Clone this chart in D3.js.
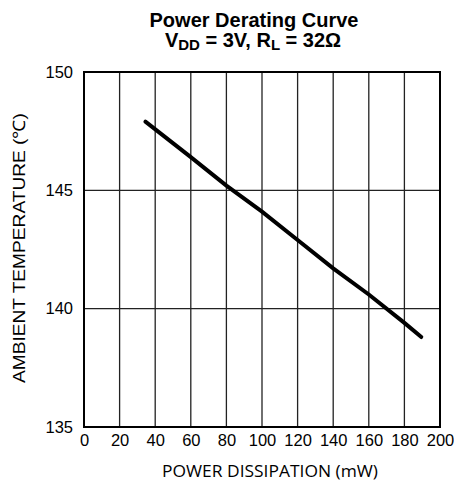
<!DOCTYPE html>
<html><head><meta charset="utf-8">
<script src="https://cdn.jsdelivr.net/npm/d3@7"></script>
<style>body{margin:0;background:#fff}svg{display:block}</style>
</head><body><svg id="c" width="454" height="481"></svg>
<script>
const powerMW = [34.5, 60, 80, 100, 120, 140, 160, 180, 189.5];
const ambientC = [147.9, 146.4, 145.2, 144.1, 142.9, 141.7, 140.6, 139.4, 138.8];
const xTicks = [0,20,40,60,80,100,120,140,160,180,200];
const yTicks = [135,140,145,150];

const svg = d3.select("#c");
const L=84, R=440, T=72, B=427;
const x = d3.scaleLinear().domain([0,200]).range([L,R]);
const y = d3.scaleLinear().domain([135,150]).range([B,T]);
const tf="Liberation Sans, Arial, sans-serif";

// grid
svg.append("g").selectAll("line").data(xTicks.slice(1,-1)).join("line")
  .attr("x1",d=>x(d)).attr("x2",d=>x(d)).attr("y1",T).attr("y2",B)
  .attr("stroke","#222").attr("stroke-width",1.3);
svg.append("g").selectAll("line").data(yTicks.slice(1,-1)).join("line")
  .attr("x1",L).attr("x2",R).attr("y1",d=>y(d)).attr("y2",d=>y(d))
  .attr("stroke","#222").attr("stroke-width",1.3);
svg.append("rect").attr("x",L).attr("y",T).attr("width",R-L).attr("height",B-T)
  .attr("fill","none").attr("stroke","#000").attr("stroke-width",2);

// tick labels
const xa = svg.append("g").attr("transform",`translate(0,${B})`)
  .call(d3.axisBottom(x).tickValues(xTicks).tickSize(0).tickPadding(0));
xa.select(".domain").remove();
xa.selectAll("text").attr("font-family",tf).attr("font-size",16.5).attr("fill","#000")
  .attr("y",19).attr("dy",0);
const ya = svg.append("g").attr("transform",`translate(${L},0)`)
  .call(d3.axisLeft(y).tickValues(yTicks).tickSize(0).tickPadding(0));
ya.select(".domain").remove();
ya.selectAll("text").attr("font-family",tf).attr("font-size",16.5).attr("fill","#000")
  .attr("x",-11).attr("dy",5);

// line
svg.append("path").datum(powerMW.map((p,i)=>[p,ambientC[i]]))
  .attr("d",d3.line().x(d=>x(d[0])).y(d=>y(d[1])))
  .attr("fill","none").attr("stroke","#000").attr("stroke-width",4).attr("stroke-linecap","round");

// titles
svg.append("text").attr("x",254).attr("y",27).attr("text-anchor","middle")
  .attr("font-family",tf).attr("font-weight","bold").attr("font-size",20).text("Power Derating Curve");
const t2 = svg.append("text").attr("x",253).attr("y",47).attr("text-anchor","middle")
  .attr("font-family",tf).attr("font-weight","bold").attr("font-size",20);
t2.append("tspan").text("V");
t2.append("tspan").attr("font-size",15).attr("dy",3).text("DD");
t2.append("tspan").attr("dy",-3).text(" = 3V, R");
t2.append("tspan").attr("font-size",15).attr("dy",3).text("L");
t2.append("tspan").attr("dy",-3).text(" = 32Ω");

svg.append("text").attr("transform","translate(25,248) rotate(-90)").attr("text-anchor","middle")
  .attr("font-family",tf).attr("font-size",17).attr("textLength",270).attr("lengthAdjust","spacingAndGlyphs")
  .text("AMBIENT TEMPERATURE  (℃)");
svg.append("text").attr("x",270).attr("y",477).attr("text-anchor","middle")
  .attr("font-family","Open Sans, Noto Sans, sans-serif").attr("font-size",15.5)
  .attr("textLength",216).attr("lengthAdjust","spacingAndGlyphs").text("POWER DISSIPATION (mW)");
</script></body></html>
